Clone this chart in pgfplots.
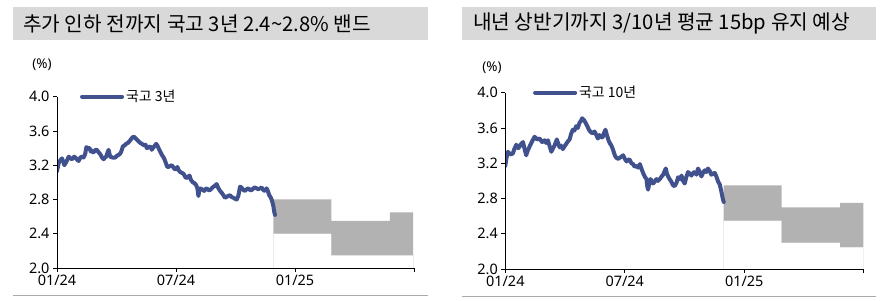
\documentclass[border=0pt]{standalone}
\usepackage{pgfplots}
\pgfplotsset{compat=1.18}
\usepackage{fontspec}
\setmainfont{Noto Sans}
\newfontfamily\kr{Noto Sans CJK KR}
\definecolor{lineblue}{RGB}{64,81,141}
\definecolor{bandgray}{RGB}{178,178,178}
\definecolor{titlegray}{RGB}{217,217,217}
\definecolor{rulegray}{RGB}{170,170,170}

\pgfplotsset{panel/.style={
  scale only axis,
  axis lines=left,
  axis line style={black, line width=0.8bp, -},
  xmin=0, xmax=18, ymin=2, ymax=4,
  xtick={0,6,12,18}, xticklabels={01/24,07/24,01/25,{}},
  ytick={2,2.4,2.8,3.2,3.6,4},
  yticklabel style={/pgf/number format/.cd, fixed, fixed zerofill, precision=1},
  /pgf/number format/assume math mode=true,
  tick style={black, line width=0.8bp},
  tick align=outside,
  major tick length=4bp,
  ticklabel style={font=\fontsize{14.5}{14.5}\selectfont, text=black},
  axis on top,
  legend style={draw=none, fill=none, font=\kr\fontsize{14}{14}\selectfont, inner sep=0pt, anchor=west},
  legend cell align=left,
  legend image code/.code={\draw[#1] (0bp,0bp) -- (40bp,0bp);},
}}

\begin{document}
\begin{tikzpicture}
\path[use as bounding box] (0,0) rectangle (886bp,301bp);

% titles
\fill[titlegray] (13bp,261bp) rectangle (428bp,294bp);
\node[anchor=west, inner sep=0pt, font=\kr\fontsize{20.3}{20.3}\selectfont] at (23bp,277.5bp) {추가 인하 전까지 국고 3년 2.4\textasciitilde 2.8\% 밴드};
\fill[titlegray] (462bp,261bp) rectangle (876bp,294bp);
\node[anchor=west, inner sep=0pt, font=\kr\fontsize{20.3}{20.3}\selectfont] at (473bp,277.5bp) {내년 상반기까지 3/10년 평균 15bp 유지 예상};

% bottom rules
\draw[rulegray, line width=1bp] (13bp,5.3bp) -- (428bp,5.3bp);
\draw[rulegray, line width=1bp] (462bp,4.5bp) -- (876bp,4.5bp);

% unit labels
\node[font=\fontsize{13.5}{13.5}\selectfont] at (42bp,236bp) {(\%)};
\node[font=\fontsize{13.5}{13.5}\selectfont] at (492bp,233bp) {(\%)};

% ---------- left panel ----------
\begin{axis}[panel, at={(57bp,33bp)}, anchor=south west, width=357bp, height=171.3bp,
  legend style={at={(0.064,1)}}]
\addplot[fill=white, draw=black!8, line width=0.5bp, forget plot] coordinates {
 (10.91,2.0) (10.91,2.4) (13.84,2.4) (13.84,2.15) (17.95,2.15) (17.95,2.0)};
\addplot[fill=bandgray, draw=none, forget plot] coordinates {
 (10.91,2.8) (13.84,2.8) (13.84,2.55) (16.78,2.55) (16.78,2.65) (17.95,2.65)
 (17.95,2.15) (13.84,2.15) (13.84,2.4) (10.91,2.4)} -- cycle;
\addplot[lineblue, line width=4bp, line join=round, line cap=round] coordinates {
(0.00,3.13)(0.08,3.22)(0.17,3.26)(0.25,3.28)(0.32,3.24)(0.37,3.20)(0.47,3.24)(0.59,3.30)
(0.68,3.28)(0.76,3.27)(0.87,3.30)(0.97,3.28)(1.03,3.26)(1.09,3.25)(1.18,3.29)(1.26,3.30)
(1.34,3.29)(1.42,3.33)(1.48,3.41)(1.56,3.40)(1.64,3.40)(1.70,3.36)(1.76,3.37)(1.82,3.35)
(1.88,3.36)(1.95,3.38)(2.01,3.38)(2.10,3.35)(2.18,3.33)(2.27,3.29)(2.35,3.27)(2.42,3.29)
(2.48,3.30)(2.55,3.35)(2.60,3.38)(2.65,3.33)(2.68,3.30)(2.80,3.29)(2.94,3.29)(3.02,3.31)
(3.10,3.32)(3.16,3.33)(3.22,3.35)(3.27,3.38)(3.32,3.42)(3.40,3.43)(3.49,3.45)(3.57,3.46)
(3.66,3.48)(3.75,3.51)(3.83,3.53)(3.90,3.53)(3.94,3.52)(4.02,3.50)(4.11,3.48)(4.20,3.46)
(4.28,3.45)(4.34,3.44)(4.40,3.43)(4.46,3.44)(4.53,3.40)(4.62,3.41)(4.70,3.42)(4.75,3.40)
(4.78,3.38)(4.83,3.40)(4.87,3.41)(4.94,3.43)(5.00,3.45)(5.06,3.43)(5.12,3.40)(5.20,3.36)
(5.29,3.32)(5.35,3.30)(5.40,3.28)(5.50,3.22)(5.56,3.18)(5.62,3.18)(5.70,3.19)(5.79,3.20)
(5.88,3.17)(5.96,3.15)(6.02,3.16)(6.07,3.18)(6.14,3.14)(6.21,3.12)(6.30,3.11)(6.38,3.10)
(6.45,3.07)(6.51,3.05)(6.60,3.06)(6.68,3.08)(6.75,3.03)(6.85,3.00)(6.93,2.99)(7.01,2.97)
(7.08,2.93)(7.13,2.84)(7.17,2.90)(7.21,2.93)(7.30,2.92)(7.42,2.90)(7.48,2.92)(7.55,2.93)
(7.63,2.91)(7.72,2.91)(7.80,2.93)(7.89,2.95)(7.97,2.96)(8.05,2.98)(8.12,2.94)(8.22,2.90)
(8.30,2.88)(8.36,2.86)(8.42,2.84)(8.47,2.82)(8.55,2.83)(8.62,2.84)(8.72,2.85)(8.80,2.83)
(8.89,2.82)(8.97,2.81)(9.06,2.80)(9.10,2.82)(9.14,2.84)(9.19,2.90)(9.23,2.95)(9.30,2.94)
(9.40,2.91)(9.48,2.90)(9.56,2.92)(9.65,2.93)(9.73,2.91)(9.82,2.91)(9.90,2.93)(9.98,2.94)
(10.06,2.93)(10.15,2.92)(10.24,2.93)(10.32,2.94)(10.40,2.91)(10.49,2.90)(10.57,2.93)(10.63,2.90)
(10.70,2.85)(10.76,2.83)(10.82,2.80)(10.87,2.76)(10.91,2.72)(10.95,2.66)(10.99,2.62)};
\addlegendentry{국고 3년}
\end{axis}

% ---------- right panel ----------
\begin{axis}[panel, at={(505.3bp,32bp)}, anchor=south west, width=358.4bp, height=176.3bp,
  legend style={at={(0.077,1)}}]
\addplot[fill=white, draw=black!8, line width=0.5bp, forget plot] coordinates {
 (10.97,2.0) (10.97,2.55) (13.88,2.55) (13.88,2.30) (16.82,2.30) (16.82,2.25) (17.98,2.25) (17.98,2.0)};
\addplot[fill=bandgray, draw=none, forget plot] coordinates {
 (10.97,2.95) (13.88,2.95) (13.88,2.70) (16.82,2.70) (16.82,2.75) (17.98,2.75)
 (17.98,2.25) (16.82,2.25) (16.82,2.30) (13.88,2.30) (13.88,2.55) (10.97,2.55)} -- cycle;
\addplot[lineblue, line width=4bp, line join=round, line cap=round] coordinates {
(0.00,3.17)(0.05,3.25)(0.13,3.33)(0.25,3.30)(0.38,3.31)(0.45,3.36)(0.55,3.41)(0.65,3.37)
(0.72,3.39)(0.80,3.42)(0.89,3.44)(0.97,3.36)(1.05,3.29)(1.12,3.34)(1.22,3.39)(1.35,3.45)
(1.47,3.50)(1.60,3.47)(1.72,3.48)(1.85,3.44)(1.97,3.46)(2.05,3.43)(2.14,3.46)(2.22,3.40)
(2.31,3.33)(2.40,3.37)(2.47,3.40)(2.59,3.47)(2.66,3.42)(2.73,3.38)(2.80,3.40)(2.89,3.36)
(2.97,3.39)(3.06,3.42)(3.15,3.45)(3.23,3.47)(3.30,3.53)(3.39,3.58)(3.47,3.57)(3.56,3.62)
(3.64,3.60)(3.73,3.66)(3.80,3.68)(3.86,3.71)(3.95,3.69)(4.03,3.66)(4.12,3.62)(4.20,3.58)
(4.30,3.55)(4.40,3.54)(4.48,3.56)(4.57,3.52)(4.65,3.48)(4.73,3.52)(4.82,3.49)(4.90,3.50)
(4.97,3.55)(5.03,3.58)(5.10,3.52)(5.20,3.45)(5.27,3.42)(5.33,3.40)(5.40,3.36)(5.50,3.29)
(5.58,3.26)(5.67,3.25)(5.80,3.27)(5.92,3.29)(6.00,3.25)(6.09,3.22)(6.17,3.24)(6.25,3.24)
(6.33,3.20)(6.42,3.19)(6.50,3.16)(6.59,3.17)(6.67,3.15)(6.76,3.19)(6.85,3.13)(6.92,3.09)
(7.00,3.05)(7.09,3.02)(7.13,2.94)(7.17,2.90)(7.23,2.97)(7.29,3.02)(7.35,3.00)(7.42,2.97)
(7.50,2.99)(7.59,3.02)(7.67,3.00)(7.76,3.02)(7.85,3.05)(7.93,3.07)(8.00,3.11)(8.06,3.14)
(8.12,3.08)(8.18,3.05)(8.25,3.02)(8.34,2.99)(8.42,2.95)(8.51,2.94)(8.60,2.98)(8.68,3.04)
(8.77,3.02)(8.85,3.06)(8.93,3.00)(9.01,2.97)(9.10,3.05)(9.18,3.10)(9.27,3.08)(9.35,3.06)
(9.43,3.09)(9.52,3.10)(9.60,3.07)(9.68,3.14)(9.77,3.10)(9.85,3.05)(9.93,3.09)(10.02,3.12)
(10.10,3.10)(10.18,3.14)(10.27,3.11)(10.35,3.07)(10.43,3.08)(10.52,3.09)(10.60,3.05)(10.69,2.99)
(10.77,2.96)(10.85,2.88)(10.92,2.80)(10.97,2.76)};
\addlegendentry{국고 10년}
\end{axis}
\end{tikzpicture}
\end{document}
